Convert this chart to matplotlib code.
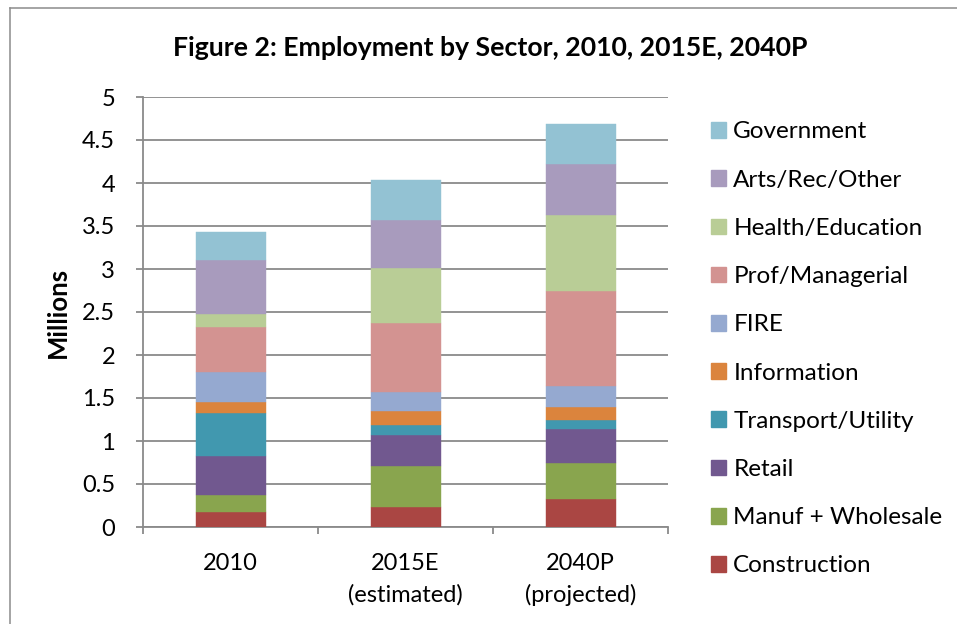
import matplotlib
matplotlib.use("Agg")
import matplotlib.pyplot as plt
from matplotlib.patches import Patch
from matplotlib.lines import Line2D

# Employment (millions) by sector, stacked bottom to top
categories = ["2010", "2015E\n(estimated)", "2040P\n(projected)"]
sectors = ["Construction", "Manuf + Wholesale", "Retail", "Transport/Utility",
           "Information", "FIRE", "Prof/Managerial", "Health/Education",
           "Arts/Rec/Other", "Government"]
construction = [0.18, 0.23, 0.33]
manuf_wholesale = [0.19, 0.48, 0.42]
retail = [0.46, 0.36, 0.39]
transport_utility = [0.50, 0.12, 0.10]
information = [0.12, 0.16, 0.16]
fire = [0.35, 0.22, 0.24]
prof_managerial = [0.53, 0.80, 1.10]
health_education = [0.15, 0.64, 0.89]
arts_rec_other = [0.62, 0.56, 0.59]
government = [0.33, 0.46, 0.47]
y_ticks = [0, 0.5, 1, 1.5, 2, 2.5, 3, 3.5, 4, 4.5, 5]
y_tick_labels = ["0", "0.5", "1", "1.5", "2", "2.5", "3", "3.5", "4", "4.5", "5"]

series = [construction, manuf_wholesale, retail, transport_utility, information,
          fire, prof_managerial, health_education, arts_rec_other, government]
colors = ["#aa4643", "#89a54e", "#71588f", "#4198af", "#db843d",
          "#95a9d0", "#d39391", "#b9cd96", "#a89bbd", "#93c2d3"]

plt.rcParams["font.family"] = ["Lato", "DejaVu Sans"]

W, H = 957, 624
fig = plt.figure(figsize=(W / 100, H / 100), dpi=100)
fig.patch.set_facecolor("white")

# outer chart frame (left and top edges)
fig.add_artist(Line2D([10 / W, 10 / W], [0, 1 - 8 / H], transform=fig.transFigure,
                      color="#8c8c8c", lw=1.1))
fig.add_artist(Line2D([10 / W, 1], [1 - 8 / H, 1 - 8 / H], transform=fig.transFigure,
                      color="#8c8c8c", lw=1.1))

ax = fig.add_axes([143 / W, (H - 527) / H, 525 / W, 430 / H])

x = list(range(len(categories)))
bottom = [0.0] * len(categories)
for vals, col in zip(series, colors):
    ax.bar(x, vals, width=0.4, bottom=bottom, color=col, edgecolor=col,
           linewidth=0.3, zorder=3)
    bottom = [b + v for b, v in zip(bottom, vals)]

ax.set_xlim(-0.5, 2.5)
ax.set_ylim(0, 5)
ax.set_yticks(y_ticks)
ax.set_yticklabels(y_tick_labels)
ax.set_xticks(x)
ax.set_xticklabels(categories, linespacing=1.55)
ax.set_xticks([-0.5, 0.5, 1.5, 2.5], minor=True)

grid_col = "#8a8a8a"
ax.yaxis.grid(True, color=grid_col, lw=1.3, zorder=0)
ax.set_axisbelow(True)

for side in ["top", "right"]:
    ax.spines[side].set_visible(False)
for side in ["left", "bottom"]:
    ax.spines[side].set_color(grid_col)
    ax.spines[side].set_linewidth(1.3)

ax.tick_params(axis="y", which="major", length=5, width=1.3, color=grid_col,
               labelsize=17, pad=15)
ax.tick_params(axis="x", which="major", length=0, labelsize=17, pad=19)
ax.tick_params(axis="x", which="minor", length=5, width=1.3, color=grid_col)

ax.set_ylabel("Millions", fontsize=18.5, fontweight="bold", labelpad=9)

fig.text(490 / W, 1 - 48 / H, "Figure 2: Employment by Sector, 2010, 2015E, 2040P",
         ha="center", va="center", fontsize=19.2, fontweight="bold")

handles = [Patch(facecolor=c, edgecolor=c) for c in colors][::-1]
labels = sectors[::-1]
leg = fig.legend(handles, labels, loc="upper left",
                 bbox_to_anchor=(711 / W, 1 - 121.5 / H), frameon=False,
                 fontsize=17.5, handlelength=0.62, handleheight=0.62,
                 handletextpad=0.3, labelspacing=1.12, borderpad=0,
                 borderaxespad=0)

fig.savefig("out.png", dpi=100, facecolor="white")
